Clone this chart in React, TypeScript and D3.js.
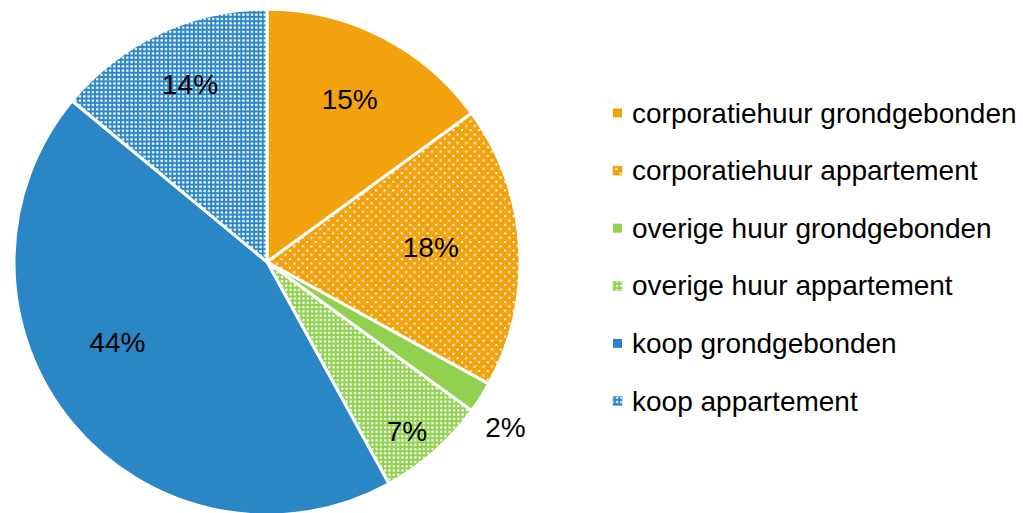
import React from "react";
import * as d3 from "d3";

const categories = [
  "corporatiehuur grondgebonden",
  "corporatiehuur appartement",
  "overige huur grondgebonden",
  "overige huur appartement",
  "koop grondgebonden",
  "koop appartement",
];
const values = [15, 18, 2, 7, 44, 14];
const labels = ["15%", "18%", "2%", "7%", "44%", "14%"];

const ORANGE = "#F2A20C";
const GREEN = "#92D050";
const BLUE = "#2A86C5";
const baseColors = [ORANGE, ORANGE, GREEN, GREEN, BLUE, BLUE];
const fills = [ORANGE, "url(#pDotsO)", GREEN, "url(#pGridG)", BLUE, "url(#pGridB)"];
// best-fit label placement: radius fraction and angular shift (degrees)
const labelRadius = [0.72, 0.65, 1.146, 0.87, 0.672, 0.763];
const labelShift = [0, -1.4, 2.3, 1.9, 11.2, 1.7];

export default function App() {
  const W = 1023, H = 513;
  const cx = 267, cy = 262, R = 253;
  const pie = d3.pie<number>().sort(null).value((d) => d)(values);
  const arc = d3.arc<d3.PieArcDatum<number>>().innerRadius(0).outerRadius(R);
  const font = "'Liberation Sans', Arial, sans-serif";
  const legendY = d3.scalePoint<number>().domain(d3.range(categories.length)).range([113, 401]);

  return (
    <svg width={W} height={H} style={{ position: "absolute", left: 0, top: 0, background: "#fff" }}>
      <defs>
        <pattern id="pDotsO" width={8.6} height={8.6} patternUnits="userSpaceOnUse">
          <rect width={8.6} height={8.6} fill={ORANGE} />
          <rect x={0.5} y={0.5} width={2} height={2} fill="#fff" />
          <rect x={4.8} y={4.8} width={2} height={2} fill="#fff" />
        </pattern>
        <pattern id="pGridG" width={4.3} height={4.3} patternUnits="userSpaceOnUse">
          <rect width={4.3} height={4.3} fill={GREEN} />
          <rect x={1} y={1} width={2.2} height={2.2} fill="#fff" />
        </pattern>
        <pattern id="pGridB" width={4.3} height={4.3} patternUnits="userSpaceOnUse">
          <rect width={4.3} height={4.3} fill={BLUE} />
          <rect x={1} y={1} width={2.4} height={2.2} fill="#fff" />
        </pattern>
      </defs>
      <g transform={`translate(${cx},${cy})`}>
        {pie.map((p, i) => (
          <path key={i} d={arc(p) || ""} fill={fills[i]} stroke="#fff" strokeWidth={3} strokeLinejoin="round" />
        ))}
        {pie.map((p, i) => {
          const a = (p.startAngle + p.endAngle) / 2 + (labelShift[i] * Math.PI) / 180;
          const r = R * labelRadius[i];
          return (
            <text key={i} x={Math.sin(a) * r} y={-Math.cos(a) * r} textAnchor="middle" dominantBaseline="central"
              fontFamily={font} fontSize={28} fill="#000">
              {labels[i]}
            </text>
          );
        })}
      </g>
      {categories.map((c, i) => {
        const y = legendY(i) as number;
        return (
          <g key={c}>
            <rect x={613} y={y - 4.5} width={9} height={9} fill={fills[i]} stroke={i % 2 ? baseColors[i] : "none"} strokeWidth={0.5} />
            <text x={632} y={y} dominantBaseline="central" fontFamily={font} fontSize={28} fill="#000">{c}</text>
          </g>
        );
      })}
    </svg>
  );
}
